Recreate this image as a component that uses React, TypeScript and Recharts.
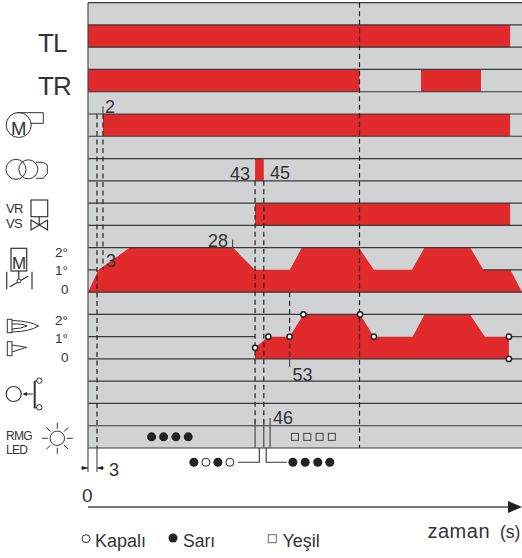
import React from "react";
import { ComposedChart, Area, Line, Scatter, ReferenceLine, XAxis, YAxis } from "recharts";

const W = 522;
const H = 558;
const RED = "#e12a2b";
const GRAY = "#d1d2d4";
const INK = "#333333";

// x is time in seconds, y is counted in timing-diagram rows from the bottom row
const T_MIN = -29.33;
const T_MAX = 144.67;
const Y_MIN = -4.94;
const Y_MAX = 20.12;
const T_END = 144.67;

const tlOn = [[0, 140.7]];
const trOn = [[0, 90.5], [111, 131]];
const motorOn = [[5, 140.7]];
const couplingOn = [[55.7, 58.6]];
const valveOn = [[55.7, 140.7]];

const flapTimes = [0, 3.5, 14, 48.3, 55.6, 67.3, 71.3, 90.3, 95.3, 108, 112.2, 127.4, 131.8, 140.8, 144.67];
const flapLevels = [7, 8, 9, 9, 8, 8, 9, 9, 8, 8, 9, 9, 8, 8, 7];
const hornTimes = [55.7, 60.1, 67.2, 71.8, 90.7, 95.3, 108.2, 112.2, 127.3, 132.3, 140.3];
const hornLevels = [4.5, 5, 5, 6, 6, 5, 5, 6, 6, 5, 5];

const rowLevels = [20, 19, 18, 17, 16, 15, 14, 13, 12, 11, 10, 9, 7, 6, 4, 3, 2, 1, 0];
const flapMidLine = [[0, 3], [131.8, T_END]];
const hornMidLine = [[0, 55.7], [140.3, T_END]];

const dashedLines = [
  [3, 15, 0],
  [5, 15, 8],
  [55.7, 12, 1],
  [58.6, 12, 1],
  [67.2, 7, 4],
  [90.5, 20, 0],
];
const solidLines = [
  [0, 20, -1.08],
  [3, 0, -1.08],
  [5, 15, 15.35],
  [48.2, 9, 9.35],
  [55.7, 1.25, 0],
  [58.6, 1.25, 0],
  [60.7, 1.35, 0],
  [67.2, 4, 3.65],
];

const hornMarkT = [55.7, 60.1, 67.2, 71.8, 90.7, 95.3, 140.3, 140.3];
const hornMarkY = [4.5, 5, 5, 6, 6, 5, 5, 4];

const ledSolidT = [21.2, 25.2, 29.3, 33.4];
const blinkSolidT = [35.3, 43.3];
const blinkOpenT = [39.3, 47.3];
const afterSolidT = [68.3, 72.4, 76.6, 80.6];
const greenT = [69, 73.1, 77.2, 81.3];
const LED_Y = 0.5;
const BELOW_Y = -0.64;

const bands = (spans: number[][], lo: number) =>
  spans.map(([a, b]) => [
    { t: a, range: [lo, lo + 1] },
    { t: b, range: [lo, lo + 1] },
  ]);
const profile = (times: number[], levels: number[], base: number) =>
  times.map((t, i) => ({ t, range: [base, levels[i]] }));
const seg = (x1: number, y1: number, x2: number, y2: number) => [
  { t: x1, y: y1 },
  { t: x2, y: y2 },
];
const marks = (ts: number[], y: number) => ts.map((t) => ({ t, y }));

const solidDot = (r: number) => (p: any) => <circle cx={p.cx} cy={p.cy} r={r} fill="#222" />;
const openDot = (r: number) => (p: any) => (
  <circle cx={p.cx} cy={p.cy} r={r} fill="#fff" stroke="#222" strokeWidth={1} />
);
const ringDot = (p: any) => (
  <circle cx={p.cx} cy={p.cy} r={2.6} fill="#fff" stroke="#222" strokeWidth={1.5} />
);
const squareMark = (p: any) => (
  <rect x={p.cx - 3.5} y={p.cy - 3.5} width={7} height={7} fill="none" stroke="#444" strokeWidth={1} />
);

function Txt({ x, y, size, ls = 0, children }: any) {
  return (
    <text x={x} y={y} fontSize={size} letterSpacing={ls} fontFamily="'Liberation Sans', Arial, sans-serif" fill={INK}>
      {children}
    </text>
  );
}

const redAreas = [
  ...bands(tlOn, 18),
  ...bands(trOn, 16),
  ...bands(motorOn, 14),
  ...bands(couplingOn, 12),
  ...bands(valveOn, 10),
  profile(flapTimes, flapLevels, 7),
  profile(hornTimes, hornLevels, 4),
];

const sunAngles = [0, 45, 90, 135, 180, 225, 270, 315];

export default function App() {
  return (
    <div style={{ position: "absolute", left: 0, top: 0, width: W, height: H }}>
      <ComposedChart width={W} height={H} margin={{ top: 0, right: 0, bottom: 0, left: 0 }}>
        <XAxis type="number" dataKey="t" domain={[T_MIN, T_MAX]} hide allowDataOverflow />
        <YAxis type="number" dataKey="y" domain={[Y_MIN, Y_MAX]} hide allowDataOverflow />

        <Area
          data={[{ t: 0, range: [0, 20] }, { t: T_END, range: [0, 20] }]}
          dataKey="range"
          type="linear"
          fill={GRAY}
          fillOpacity={1}
          stroke="none"
          dot={false}
          activeDot={false}
          isAnimationActive={false}
        />
        {redAreas.map((d, i) => (
          <Area
            key={i}
            data={d}
            dataKey="range"
            type="linear"
            fill={RED}
            fillOpacity={1}
            stroke="none"
            dot={false}
            activeDot={false}
            isAnimationActive={false}
          />
        ))}

        {rowLevels.map((y) => (
          <Line key={y} data={seg(0, y, T_END, y)} dataKey="y" stroke="#3a3a3a" strokeWidth={1.2} dot={false} activeDot={false} isAnimationActive={false} />
        ))}
        {flapMidLine.map(([a, b]) => (
          <Line key={a} data={seg(a, 8, b, 8)} dataKey="y" stroke="#3a3a3a" strokeWidth={1.2} dot={false} activeDot={false} isAnimationActive={false} />
        ))}
        {hornMidLine.map(([a, b]) => (
          <Line key={a} data={seg(a, 5, b, 5)} dataKey="y" stroke="#3a3a3a" strokeWidth={1.2} dot={false} activeDot={false} isAnimationActive={false} />
        ))}
        {dashedLines.map(([t, a, b], i) => (
          <ReferenceLine key={"d" + i} segment={[{ x: t, y: a }, { x: t, y: b }]} stroke="#222" strokeWidth={1.2} strokeDasharray="5 3.5" />
        ))}
        {solidLines.map(([t, a, b], i) => (
          <ReferenceLine key={"s" + i} segment={[{ x: t, y: a }, { x: t, y: b }]} stroke="#444" strokeWidth={1.1} />
        ))}

        {/* brackets from the LED row to the blink patterns */}
        <Line data={[{ t: 57.1, y: 0 }, { t: 57.1, y: BELOW_Y }, { t: 50, y: BELOW_Y }]} dataKey="y" stroke="#333" strokeWidth={1.1} dot={false} activeDot={false} isAnimationActive={false} />
        <Line data={[{ t: 59.4, y: 0 }, { t: 59.4, y: BELOW_Y }, { t: 66.3, y: BELOW_Y }]} dataKey="y" stroke="#333" strokeWidth={1.1} dot={false} activeDot={false} isAnimationActive={false} />

        {/* 3 s dimension and time axis */}
        <Line data={seg(-2.4, -0.9, 0, -0.9)} dataKey="y" stroke="#333" strokeWidth={1} dot={false} activeDot={false} isAnimationActive={false} />
        <Line data={seg(3, -0.9, 5.4, -0.9)} dataKey="y" stroke="#333" strokeWidth={1} dot={false} activeDot={false} isAnimationActive={false} />
        <Line data={seg(0, -2.65, 140, -2.65)} dataKey="y" stroke="#777" strokeWidth={2} dot={false} activeDot={false} isAnimationActive={false} />

        <Scatter data={marks(ledSolidT, LED_Y)} dataKey="y" shape={solidDot(4.5)} isAnimationActive={false} />
        <Scatter data={marks(blinkSolidT, BELOW_Y)} dataKey="y" shape={solidDot(4.5)} isAnimationActive={false} />
        <Scatter data={marks(blinkOpenT, BELOW_Y)} dataKey="y" shape={openDot(4)} isAnimationActive={false} />
        <Scatter data={marks(afterSolidT, BELOW_Y)} dataKey="y" shape={solidDot(4.5)} isAnimationActive={false} />
        <Scatter data={marks(greenT, LED_Y)} dataKey="y" shape={squareMark} isAnimationActive={false} />
        <Scatter data={hornMarkT.map((t, i) => ({ t, y: hornMarkY[i] }))} dataKey="y" shape={ringDot} isAnimationActive={false} />
      </ComposedChart>

      {/* labels and icons sit above the chart layers */}
      <svg width={W} height={H} style={{ position: "absolute", left: 0, top: 0 }}>
        <polygon points="508,501 522,507 508,513" fill="#222" />
        <polygon points="88,468 82,466 82,470" fill="#222" />
        <polygon points="97,468 103,466 103,470" fill="#222" />

        <Txt x={38} y={52} size={26} ls={-1}>TL</Txt>
        <Txt x={38} y={94.5} size={26} ls={-1}>TR</Txt>
        <Txt x={105} y={113} size={18}>2</Txt>
        <Txt x={230} y={180} size={18}>43</Txt>
        <Txt x={270} y={179} size={18}>45</Txt>
        <Txt x={208} y={247} size={18}>28</Txt>
        <Txt x={106} y={267} size={18}>3</Txt>
        <Txt x={292.5} y={381} size={18}>53</Txt>
        <Txt x={273} y={424} size={18}>46</Txt>
        <Txt x={109} y={476} size={18}>3</Txt>
        <Txt x={82} y={502} size={19}>0</Txt>
        <Txt x={427.5} y={538} size={20} ls={0.5}>zaman</Txt>
        <Txt x={500} y={538} size={17.5}>(s)</Txt>
        <Txt x={95} y={547} size={18}>Kapalı</Txt>
        <Txt x={183} y={547} size={17.5}>Sarı</Txt>
        <Txt x={282.5} y={547} size={18}>Yeşil</Txt>

        <Txt x={55} y={257} size={13.5}>2°</Txt>
        <Txt x={55} y={275} size={13.5}>1°</Txt>
        <Txt x={61} y={294} size={13.5}>0</Txt>
        <Txt x={55} y={325} size={13.5}>2°</Txt>
        <Txt x={55} y={343} size={13.5}>1°</Txt>
        <Txt x={61} y={362} size={13.5}>0</Txt>
        <Txt x={6} y={212.5} size={13} ls={-0.6}>VR</Txt>
        <Txt x={6} y={227.5} size={13} ls={-0.6}>VS</Txt>
        <Txt x={6} y={440} size={12} ls={-0.7}>RMG</Txt>
        <Txt x={6} y={454} size={12} ls={-0.7}>LED</Txt>

        {/* legend symbols */}
        <circle cx={86} cy={538.7} r={4} fill="#fff" stroke="#333" strokeWidth={1} />
        <circle cx={173} cy={538} r={4.5} fill="#222" />
        <rect x={268.3} y={534.7} width={8} height={8} fill="#fff" stroke="#666" strokeWidth={1} />

        {/* component icons */}
        <g fill="none" stroke="#333" strokeWidth={1}>
          <circle cx={18.7} cy={125} r={12.5} />
          <path d="M17 112.7H43.3V123.3H31" />
          <circle cx={16} cy={169.3} r={10} />
          <circle cx={28.3} cy={169.3} r={9.5} />
          <path d="M36 162.3H43.3L47.3 165V173.3L43.3 178.3H36" />
          <rect x={31} y={200} width={16.7} height={16.7} strokeWidth={1.2} />
          <path d="M31 220L47.5 230V220L31 230ZM39.2 216.7V225" strokeWidth={1.2} />
          <rect x={11} y={248.3} width={15.7} height={22.7} strokeWidth={1.2} />
          <path d="M18.8 271V279M10 286.7L28.3 276M6.7 271.7V289.3M32 271.7V289.3" strokeWidth={1.2} />
          <circle cx={19} cy={281} r={2} fill="#fff" />
          <rect x={7.3} y={319.3} width={4.7} height={13.4} />
          <path d="M12 320.5Q30 321 38.5 326Q30 331.5 12 332M12 324Q22 323.5 27 326Q22 328.5 12 329" />
          <rect x={7.3} y={341.7} width={4.7} height={14} />
          <path d="M12 345L26.7 347.3L12 352" />
          <circle cx={13.7} cy={394} r={7.5} strokeWidth={1.2} />
          <path d="M25 394H33" />
          <path d="M34.7 381V408.3" strokeWidth={2} />
          <path d="M34.7 381L37 380.7M34.7 408L37 407.3" />
          <circle cx={39.3} cy={380.7} r={2.7} />
          <circle cx={39.3} cy={407.3} r={2.7} />
          <circle cx={57.3} cy={438.3} r={7.2} />
          {sunAngles.map((a) => {
            const c = Math.cos((a * Math.PI) / 180);
            const s = Math.sin((a * Math.PI) / 180);
            return <line key={a} x1={57.3 + 9.5 * c} y1={438.3 + 9.5 * s} x2={57.3 + 15.5 * c} y2={438.3 + 15.5 * s} />;
          })}
        </g>
        <polygon points="22.5,394 27,392 27,396" fill="#222" />
        <Txt x={11} y={135} size={18.5} ls={-0.6}>M</Txt>
        <Txt x={12} y={269} size={17} ls={-0.5}>M</Txt>
      </svg>
    </div>
  );
}
